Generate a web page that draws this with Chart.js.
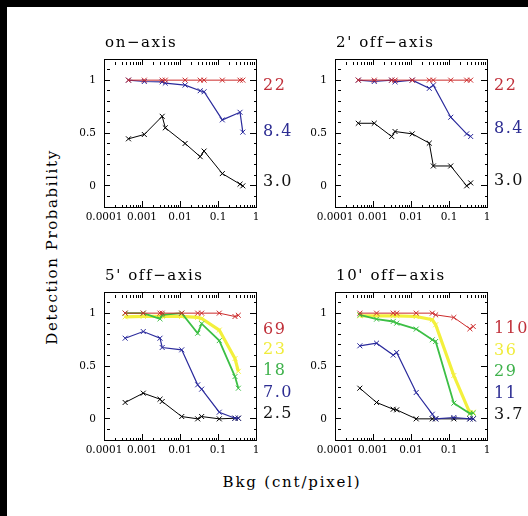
<!DOCTYPE html>
<html><head><meta charset="utf-8">
<script src="https://cdn.jsdelivr.net/npm/chart.js@4/dist/chart.umd.min.js"></script>
<style>
html,body{margin:0;padding:0;background:#000;width:528px;height:516px;overflow:hidden;}
#page{position:absolute;left:7px;top:7px;width:521px;height:509px;background:#fff;}
canvas{position:absolute;}
.lbl{position:absolute;font-family:'DejaVu Serif';font-size:15px;color:#000;white-space:nowrap;}
</style></head><body>
<div id="page"></div>
<div class="lbl" style="left:52px;top:247px;letter-spacing:1.6px;transform:translate(-50%,-50%) rotate(-90deg);">Detection Probability</div>
<div class="lbl" style="left:292px;top:482px;letter-spacing:1.8px;transform:translate(-50%,-50%);">Bkg (cnt/pixel)</div>
<script>
// ---- tick labels ----
const xTickValues = [0.0001, 0.001, 0.01, 0.1, 1];
const xTickLabels = ['0.0001', '0.001', '0.01', '0.1', '1'];
const xMinorMult  = [2, 3, 4, 5, 6, 7, 8, 9];
const yTickValues = [0, 0.5, 1];
const yTickLabels = ['0', '0.5', '1'];
const yMinorStep  = 0.1;

// ---- on-axis ----
const bkgOn   = [4.4e-4, 1.15e-3, 3.4e-3, 4.1e-3, 0.0136, 0.034, 0.043, 0.13, 0.38, 0.45];
const onRed   = [1, 1, 1, 1, 1, 1, 1, 1, 1, 1];
const onBlue  = [1.0, 0.987, 0.984, 0.972, 0.953, 0.90, 0.89, 0.624, 0.696, 0.508];
const onBlack = [0.445, 0.486, 0.658, 0.549, 0.401, 0.276, 0.329, 0.116, 0.016, 0.0];
const onLabels = ['22', '8.4', '3.0'];
const onLabelY = [0.95, 0.51, 0.04];

// ---- 2' off-axis ----
const bkg2    = [4.1e-4, 1.08e-3, 3.1e-3, 3.8e-3, 0.0108, 0.0303, 0.0387, 0.111, 0.292, 0.372];
const off2Red   = [1, 1, 1, 1, 1, 1, 1, 1, 1, 1];
const off2Blue  = [1.0, 0.987, 1.0, 0.984, 1.0, 0.922, 0.953, 0.649, 0.492, 0.467];
const off2Black = [0.592, 0.592, 0.467, 0.514, 0.492, 0.404, 0.188, 0.188, 0.0, 0.028];
const off2Labels = ['22', '8.4', '3.0'];
const off2LabelY = [0.95, 0.54, 0.05];

// ---- 5' off-axis ----
const bkg5      = [3.6e-4, 1.08e-3, 2.98e-3, 3.4e-3, 0.0111, 0.0292, 0.0371, 0.108, 0.28, 0.343];
const off5Red    = [1, 1, 1, 1, 1, 1, 1, 1, 0.968, 0.98];
const off5Yellow = [0.965, 0.97, 0.97, 0.97, 0.97, 0.96, 0.95, 0.84, 0.57, 0.45];
const off5Green  = [1.0, 1.0, 0.946, 0.984, 1.0, 0.81, 0.90, 0.74, 0.40, 0.29];
const off5Blue   = [0.763, 0.826, 0.763, 0.675, 0.653, 0.322, 0.281, 0.063, 0.006, 0.006];
const off5Black  = [0.155, 0.243, 0.186, 0.164, 0.022, 0.0, 0.022, 0.0, 0.006, 0.006];
const off5Labels = ['69', '23', '18', '7.0', '2.5'];
const off5LabelY = [0.84, 0.65, 0.45, 0.25, 0.05];

// ---- 10' off-axis ----
const bkg10      = [4.5e-4, 1.24e-3, 3.4e-3, 4.2e-3, 0.0137, 0.0364, 0.0446, 0.134, 0.355, 0.434];
const off10Red    = [1, 1, 1, 1, 1, 1, 0.984, 0.959, 0.852, 0.874];
const off10Yellow = [0.975, 0.975, 0.975, 0.975, 0.968, 0.937, 0.89, 0.41, 0.054, 0.063];
const off10Green  = [0.984, 0.943, 0.921, 0.905, 0.849, 0.748, 0.732, 0.148, 0.05, 0.054];
const off10Blue   = [0.691, 0.716, 0.603, 0.628, 0.249, 0.044, 0.0, 0.013, 0.0, 0.0];
const off10Black  = [0.29, 0.155, 0.091, 0.085, 0.0, 0.0, 0.0, 0.0, 0.0, 0.0];
const off10Labels = ['110', '36', '29', '11', '3.7'];
const off10LabelY = [0.85, 0.64, 0.44, 0.24, 0.04];

const C = {
  red:    {line: '#cc2b2b', text: '#c0303a', w: 1},
  yellow: {line: '#f3f03c', text: '#f0ec3c', w: 3.2},
  green:  {line: '#3cbf45', text: '#3fb24c', w: 1.8},
  blue:   {line: '#2a2a9c', text: '#2c2c92', w: 1.2},
  black:  {line: '#000000', text: '#111111', w: 1}
};

const FONT = 'DejaVu Serif';
const PAD_L = 60, PAD_T = 40, PAD_R = 40, X_H = 30;

// full tick lists (major + minor) for inward tick marks
const xAllTicks = [];
xTickValues.forEach((b, n) => {
  xAllTicks.push(b);
  if (n < xTickValues.length - 1) xMinorMult.forEach(k => xAllTicks.push(k * b));
});
const yAllTicks = [];
for (let i = -2; i <= 12; i++) yAllTicks.push(i / 10);

const isXMajor = v => xTickValues.indexOf(v) >= 0;
const isYMajor = v => Math.abs(v * 2 - Math.round(v * 2)) < 1e-9;

function axisGrid(isMajor) {
  return {
    display: true,
    drawOnChartArea: false,
    drawTicks: true,
    tickLength: -6,
    tickColor: '#000',
    tickWidth: 1,
    tickBorderDash: c => (c.tick && isMajor(c.tick.value)) ? [] : [3, 40]
  };
}
const blackBorder = {display: true, color: '#000', width: 1};

const textPlugin = {
  id: 'paneltext',
  afterDraw(chart) {
    const o = chart.options.plugins.paneltext;
    const ctx = chart.ctx, a = chart.chartArea, ys = chart.scales.y;
    ctx.save();
    ctx.font = '15px "' + FONT + '"';
    ctx.letterSpacing = '1.6px';
    ctx.fillStyle = '#000';
    ctx.textAlign = 'left';
    ctx.textBaseline = 'middle';
    ctx.fillText(o.title, a.left + 1, a.top - 16);
    ctx.font = '16px "' + FONT + '"';
    ctx.letterSpacing = '1.5px';
    o.labels.forEach((t, i) => {
      ctx.fillStyle = o.labelColors[i];
      ctx.fillText(t, a.right + 7, ys.getPixelForValue(o.labelY[i]));
    });
    ctx.restore();
  }
};

function makePanel(left, top, title, xs, series, labels, labelY, labelKeys) {
  const cv = document.createElement('canvas');
  const w = PAD_L + 152 + PAD_R, h = PAD_T + 148 + X_H;
  cv.width = w; cv.height = h;
  cv.style.left = (left - PAD_L) + 'px';
  cv.style.top = (top - PAD_T) + 'px';
  cv.style.width = w + 'px'; cv.style.height = h + 'px';
  document.body.appendChild(cv);
  const datasets = series.map(s => ({
    data: xs.map((x, i) => ({x: x, y: s.ys[i]})),
    xAxisID: 'x', yAxisID: 'y',
    showLine: true,
    borderColor: C[s.c].line,
    backgroundColor: C[s.c].line,
    borderWidth: C[s.c].w,
    pointStyle: 'crossRot',
    pointRadius: 3.5,
    pointBorderWidth: 1,
    pointBorderColor: C[s.c].line,
    tension: 0
  }));
  const tickFont = {family: FONT, size: 10.5};
  new Chart(cv, {
    type: 'scatter',
    data: {datasets},
    options: {
      responsive: false,
      animation: false,
      devicePixelRatio: 1,
      layout: {padding: {top: PAD_T, right: PAD_R, left: 0, bottom: 0}},
      plugins: {
        legend: {display: false},
        tooltip: {enabled: false},
        paneltext: {
          title: title,
          labels: labels,
          labelY: labelY,
          labelColors: labelKeys.map(k => C[k].text)
        }
      },
      scales: {
        x: {
          type: 'logarithmic', position: 'bottom', min: 1e-4, max: 1,
          grid: axisGrid(isXMajor),
          border: blackBorder,
          afterBuildTicks: s => { s.ticks = xAllTicks.map(v => ({value: v})); },
          afterFit: s => { s.height = X_H; },
          ticks: {
            autoSkip: false, maxRotation: 0, minRotation: 0, padding: 10,
            color: '#000', font: tickFont,
            callback: v => { const j = xTickValues.indexOf(v); return j >= 0 ? xTickLabels[j] : ''; }
          }
        },
        x2: {
          type: 'logarithmic', position: 'top', axis: 'x', min: 1e-4, max: 1,
          grid: axisGrid(isXMajor),
          border: blackBorder,
          afterBuildTicks: s => { s.ticks = xAllTicks.map(v => ({value: v})); },
          afterFit: s => { s.height = 0; },
          ticks: {display: false, autoSkip: false}
        },
        y: {
          position: 'left', min: -0.2, max: 1.2,
          grid: axisGrid(isYMajor),
          border: blackBorder,
          afterBuildTicks: s => { s.ticks = yAllTicks.map(v => ({value: v})); },
          afterFit: s => { s.width = PAD_L; },
          ticks: {
            autoSkip: false, padding: 14,
            color: '#000', font: tickFont,
            callback: v => { const j = yTickValues.indexOf(v); return j >= 0 ? yTickLabels[j] : ''; }
          }
        },
        y2: {
          position: 'right', axis: 'y', min: -0.2, max: 1.2,
          grid: axisGrid(isYMajor),
          border: blackBorder,
          afterBuildTicks: s => { s.ticks = yAllTicks.map(v => ({value: v})); },
          afterFit: s => { s.width = 0; },
          ticks: {display: false, autoSkip: false}
        }
      }
    },
    plugins: [textPlugin]
  });
}

makePanel(104, 59, 'on\u2212axis', bkgOn, [
  {c: 'red', ys: onRed}, {c: 'blue', ys: onBlue}, {c: 'black', ys: onBlack}
], onLabels, onLabelY, ['red', 'blue', 'black']);

makePanel(335, 59, "2' off\u2212axis", bkg2, [
  {c: 'red', ys: off2Red}, {c: 'blue', ys: off2Blue}, {c: 'black', ys: off2Black}
], off2Labels, off2LabelY, ['red', 'blue', 'black']);

makePanel(104, 292, "5' off\u2212axis", bkg5, [
  {c: 'red', ys: off5Red}, {c: 'green', ys: off5Green}, {c: 'blue', ys: off5Blue},
  {c: 'black', ys: off5Black}, {c: 'yellow', ys: off5Yellow}
], off5Labels, off5LabelY, ['red', 'yellow', 'green', 'blue', 'black']);

makePanel(335, 292, "10' off\u2212axis", bkg10, [
  {c: 'red', ys: off10Red}, {c: 'green', ys: off10Green}, {c: 'blue', ys: off10Blue},
  {c: 'black', ys: off10Black}, {c: 'yellow', ys: off10Yellow}
], off10Labels, off10LabelY, ['red', 'yellow', 'green', 'blue', 'black']);
</script>
</body></html>
